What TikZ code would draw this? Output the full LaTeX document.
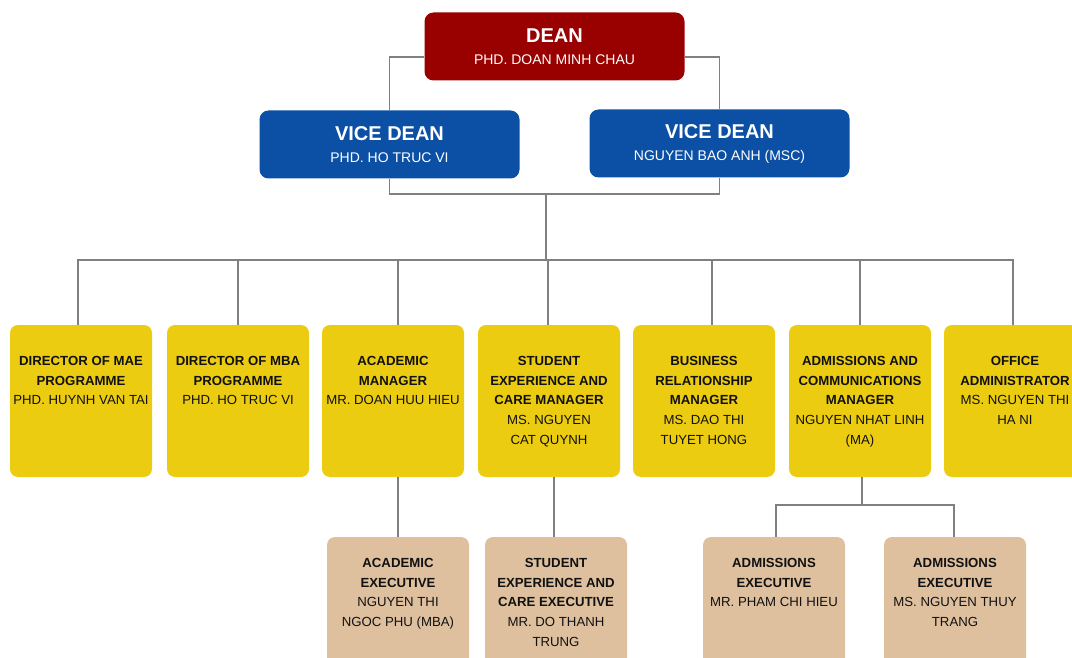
\documentclass[tikz,border=0pt]{standalone}
\usepackage{fontspec}
\setmainfont{Liberation Sans}
\definecolor{deanred}{RGB}{153,0,0}
\definecolor{vdblue}{RGB}{12,80,166}
\definecolor{unityellow}{RGB}{236,204,16}
\definecolor{stafftan}{RGB}{223,192,158}
\definecolor{linegray}{RGB}{128,128,128}
\definecolor{inkblack}{RGB}{17,17,17}

\tikzset{
  link/.style={draw=linegray, line width=1.2pt},
  headbox/.style={rounded corners=9pt, minimum width=260pt, minimum height=68pt,
    inner sep=0pt, text=white, align=center, font=\fontsize{14}{22}\selectfont},
  unitbox/.style={rounded corners=8pt, minimum width=142pt, minimum height=152pt, inner sep=0pt},
  unittext/.style={anchor=north, align=center, inner sep=0pt, text=inkblack,
    font=\fontsize{13.2}{19.8}\selectfont},
}

\begin{document}
\begin{tikzpicture}[x=1pt, y=-1pt]
\clip (0,0) rectangle (1072,658);

% top level
\node[headbox, fill=deanred] (dean) at (554.5,46.5)
  {{\fontsize{20}{22}\bfseries DEAN}\\PHD. DOAN MINH CHAU};
\node[headbox, fill=vdblue] (vdA) at (389.5,144.5)
  {{\fontsize{20}{22}\bfseries VICE DEAN}\\PHD. HO TRUC VI};
\node[headbox, fill=vdblue] (vdB) at (719.5,143.5)
  {{\fontsize{20}{22}\bfseries VICE DEAN}\\NGUYEN BAO ANH (MSC)};

% managers
\node[unitbox, fill=unityellow] (m1) at (81,401) {};
\node[unitbox, fill=unityellow] (m2) at (238,401) {};
\node[unitbox, fill=unityellow] (m3) at (393,401) {};
\node[unitbox, fill=unityellow] (m4) at (549,401) {};
\node[unitbox, fill=unityellow] (m5) at (704,401) {};
\node[unitbox, fill=unityellow] (m6) at (860,401) {};
\node[unitbox, fill=unityellow] (m7) at (1015,401) {};

\node[unittext] (m1t) at ([yshift=-31pt]m1.north) {\textbf{DIRECTOR OF MAE}\\\textbf{PROGRAMME}\\PHD. HUYNH VAN TAI};
\node[unittext] (m2t) at ([yshift=-31pt]m2.north) {\textbf{DIRECTOR OF MBA}\\\textbf{PROGRAMME}\\PHD. HO TRUC VI};
\node[unittext] (m3t) at ([yshift=-31pt]m3.north) {\textbf{ACADEMIC}\\\textbf{MANAGER}\\MR. DOAN HUU HIEU};
\node[unittext] (m4t) at ([yshift=-31pt]m4.north) {\textbf{STUDENT}\\\textbf{EXPERIENCE AND}\\\textbf{CARE MANAGER}\\MS. NGUYEN\\CAT QUYNH};
\node[unittext] (m5t) at ([yshift=-31pt]m5.north) {\textbf{BUSINESS}\\\textbf{RELATIONSHIP}\\\textbf{MANAGER}\\MS. DAO THI\\TUYET HONG};
\node[unittext] (m6t) at ([yshift=-31pt]m6.north) {\textbf{ADMISSIONS AND}\\\textbf{COMMUNICATIONS}\\\textbf{MANAGER}\\NGUYEN NHAT LINH\\(MA)};
\node[unittext] (m7t) at ([yshift=-31pt]m7.north) {\textbf{OFFICE}\\\textbf{ADMINISTRATOR}\\MS. NGUYEN THI\\HA NI};

% executives
\node[unitbox, fill=stafftan] (t1) at (398,613) {};
\node[unitbox, fill=stafftan] (t2) at (556,613) {};
\node[unitbox, fill=stafftan] (t3) at (774,613) {};
\node[unitbox, fill=stafftan] (t4) at (955,613) {};

\node[unittext] (t1t) at ([yshift=-21pt]t1.north) {\textbf{ACADEMIC}\\\textbf{EXECUTIVE}\\NGUYEN THI\\NGOC PHU (MBA)};
\node[unittext] (t2t) at ([yshift=-21pt]t2.north) {\textbf{STUDENT}\\\textbf{EXPERIENCE AND}\\\textbf{CARE EXECUTIVE}\\MR. DO THANH\\TRUNG};
\node[unittext] (t3t) at ([yshift=-21pt]t3.north) {\textbf{ADMISSIONS}\\\textbf{EXECUTIVE}\\MR. PHAM CHI HIEU};
\node[unittext] (t4t) at ([yshift=-21pt]t4.north) {\textbf{ADMISSIONS}\\\textbf{EXECUTIVE}\\MS. NGUYEN THUY\\TRANG};

% connectors
\coordinate (vdjoin) at (546,194);
\coordinate (bar) at (546,260);
\coordinate (adjoin) at (862,505);

\begin{scope}[on background layer/.try]
\draw[link] ([yshift=-10.5pt]dean.west) -| (vdA.north);
\draw[link] ([yshift=-10.5pt]dean.east) -| (vdB.north);
\draw[link] (vdA.south) |- (vdjoin) -| (vdB.south);
\draw[link] (vdjoin) -- (bar);
\foreach \m/\dx in {m1/-3, m2/0, m3/5, m4/-1, m5/8, m6/0, m7/-2}
  \draw[link] (bar) -| ([xshift=\dx pt]\m.north);
\draw[link] (t1.north |- m3.south) -- (t1.north);
\draw[link] ([xshift=5pt]m4.south) -- ([xshift=5pt]m4.south |- t2.north);
\draw[link] ([xshift=2pt]m6.south) -- (adjoin);
\draw[link] ([xshift=2pt]t3.north) |- (adjoin) -| ([xshift=-1pt]t4.north);
\end{scope}
\end{tikzpicture}
\end{document}
